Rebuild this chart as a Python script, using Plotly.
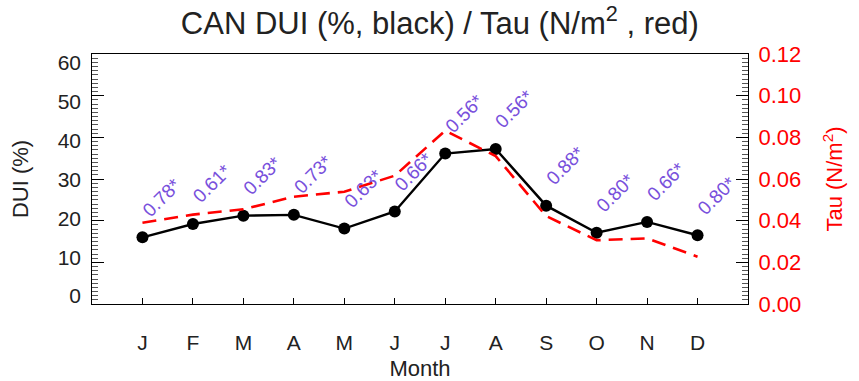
import plotly.graph_objects as go

months = ["J", "F", "M", "A", "M", "J", "J", "A", "S", "O", "N", "D"]
month_pos = list(range(1, 13))
dui = [16.0, 19.2, 21.2, 21.4, 18.1, 22.2, 36.1, 37.2, 23.6, 17.1, 19.7, 16.5]
tau = [0.0390, 0.0429, 0.0455, 0.0515, 0.0539, 0.0616, 0.0832, 0.0710, 0.0422, 0.0306, 0.0315, 0.0227]
corr_labels = ["0.78*", "0.61*", "0.83*", "0.73*", "0.63*", "0.66*",
               "0.56*", "0.56*", "0.88*", "0.80*", "0.66*", "0.80*"]
dui_ticks = [0, 10, 20, 30, 40, 50, 60]
tau_ticks = [0.00, 0.02, 0.04, 0.06, 0.08, 0.10, 0.12]

FONT = "Liberation Sans, Arial, Helvetica, sans-serif"
PURPLE = "#7850dc"
RED = "#ff0000"

fig = go.Figure()

fig.add_trace(go.Scatter(
    x=month_pos, y=tau, mode="lines", yaxis="y2",
    line=dict(color=RED, width=2.6, dash="14px,8px"),
    hoverinfo="skip", showlegend=False))

fig.add_trace(go.Scatter(
    x=month_pos, y=dui, mode="lines+markers", yaxis="y",
    line=dict(color="black", width=2.4),
    marker=dict(color="black", size=12),
    showlegend=False))

# invisible trace carrying the left tick-label axis
fig.add_trace(go.Scatter(
    x=month_pos, y=dui, mode="lines", yaxis="y3",
    line=dict(width=0), opacity=0, hoverinfo="skip", showlegend=False))

for m, v, t in zip(month_pos, dui, corr_labels):
    fig.add_annotation(x=m, y=v, xref="x", yref="y", text=t, showarrow=False,
                       xanchor="left", yanchor="bottom", yshift=14, xshift=-7,
                       textangle=-45,
                       font=dict(family=FONT, size=19, color=PURPLE))

fig.update_layout(
    width=859, height=381,
    margin=dict(l=92, r=111, t=54, b=77, autoexpand=False),
    paper_bgcolor="white", plot_bgcolor="white",
    title=dict(text="CAN DUI (%, black) / Tau (N/m<sup>2</sup> , red)",
               x=0.512, xanchor="center", y=1 - 23 / 381, yanchor="middle",
               font=dict(family=FONT, size=31, color="#222222")),
    xaxis=dict(range=[0, 13], tickvals=month_pos, ticktext=months,
               ticks="inside", ticklen=6, tickcolor="black", tickwidth=1,
               showline=True, linecolor="black", linewidth=1.2, mirror=True,
               showgrid=False, zeroline=False,
               ticklabelstandoff=20,
               tickfont=dict(family=FONT, size=21, color="#222222"),
               title=dict(text="Month", standoff=12,
                          font=dict(family=FONT, size=22, color="#222222"))),
    yaxis=dict(range=[0, 60], dtick=10, tick0=0, showticklabels=False,
               ticks="inside", ticklen=12, tickcolor="black", tickwidth=1,
               minor=dict(dtick=1, ticks="inside", ticklen=6, tickcolor="#555555", tickwidth=1),
               showline=True, linecolor="black", linewidth=1.2,
               showgrid=False, zeroline=False),
    yaxis3=dict(overlaying="y", side="left", anchor="x",
                range=[-2.06, 62.32], tickvals=dui_ticks,
                ticktext=[str(v) for v in dui_ticks],
                ticks="", showline=False, showgrid=False, zeroline=False,
                ticklabelstandoff=10,
                tickfont=dict(family=FONT, size=21, color="#222222"),
                title=dict(text="DUI (%)", standoff=22,
                           font=dict(family=FONT, size=22, color="#222222"))),
    yaxis2=dict(overlaying="y", side="right", anchor="x",
                range=[0, 0.12], tickvals=tau_ticks,
                ticktext=["%.2f" % v for v in tau_ticks],
                ticks="inside", ticklen=12, tickcolor="black", tickwidth=1,
                minor=dict(dtick=0.002, ticks="inside", ticklen=6, tickcolor="#555555", tickwidth=1),
                showline=True, linecolor="black", linewidth=1.2,
                showgrid=False, zeroline=False,
                ticklabelstandoff=5,
                tickfont=dict(family=FONT, size=22, color=RED),
                title=dict(text="Tau (N/m<sup>2</sup>)", standoff=26,
                           font=dict(family=FONT, size=22, color=RED))),
)

fig.write_html("out.html", config={"displayModeBar": False},
               post_script="document.body.style.margin='0';document.body.style.overflow='hidden';")
